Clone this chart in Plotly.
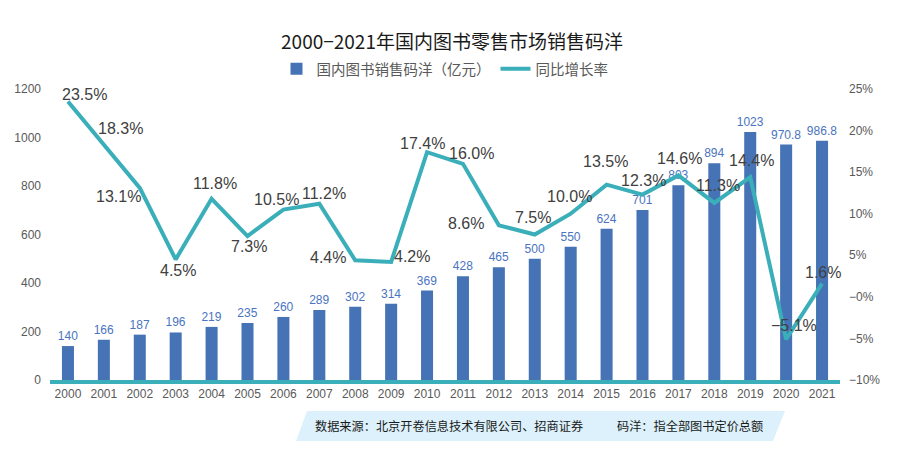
import plotly.graph_objects as go

years = [str(y) for y in range(2000, 2022)]
sales = [140, 166, 187, 196, 219, 235, 260, 289, 302, 314, 369, 428, 465, 500, 550, 624, 701, 803, 894, 1023, 970.8, 986.8]
sales_text = ["140", "166", "187", "196", "219", "235", "260", "289", "302", "314", "369", "428", "465", "500", "550", "624", "701", "803", "894", "1023", "970.8", "986.8"]
growth = [23.5, 18.3, 13.1, 4.5, 11.8, 7.3, 10.5, 11.2, 4.4, 4.2, 17.4, 16.0, 8.6, 7.5, 10.0, 13.5, 12.3, 14.6, 11.3, 14.4, -5.1, 1.6]
left_ticks = [0, 200, 400, 600, 800, 1000, 1200]
right_ticks = [-10, -5, 0, 5, 10, 15, 20, 25]
right_ticktext = ["\u221210%", "\u22125%", "\u22120%", "5%", "10%", "15%", "20%", "25%"]

# label offsets (pixels) of each growth label relative to its point: (dx, dy up)
label_dx = [17, 17, -21, 2, 3, 1, -7, 5, -27, 21, -5, 9, -33, -2, -1, -1, 1, 1, 4, 1, 8, 1]
label_dy = [7, 16, -9, -11, 15, -10, 10, 10, 3, 5, 9, 10, 2, 17, 17, 23, 14, 17, 17, 17, 14, 11]

BASE = "Arial, 'Liberation Sans', 'Noto Sans CJK SC', sans-serif"
CJK = "'Noto Sans CJK SC', Arial, sans-serif"
BAR = "#4673b5"
TEAL = "#3aafb9"

fig = go.Figure()
fig.add_trace(go.Bar(
    x=years, y=sales, name="国内图书销售码洋（亿元）",
    marker=dict(color=BAR, line=dict(width=0)),
    text=sales_text, textposition="outside", cliponaxis=False, constraintext="none",
    textfont=dict(color="#4a74c0", size=12, family=BASE),
))
fig.add_trace(go.Scatter(
    x=years, y=growth, name="同比增长率", yaxis="y2", mode="lines",
    line=dict(color=TEAL, width=4), cliponaxis=False,
))

# category axis: annotate by category index
for i, (v, dx, dy) in enumerate(zip(growth, label_dx, label_dy)):
    fig.add_annotation(x=i, y=v, xref="x", yref="y2", xshift=dx, yshift=dy,
                       text=f"{v:.1f}%".replace("-", "\u2212"), showarrow=False,
                       xanchor="center", yanchor="middle",
                       font=dict(color="#404040", size=16, family=BASE))

fig.update_layout(
    width=904, height=466,
    margin=dict(l=50, r=64, t=89, b=86),
    paper_bgcolor="white", plot_bgcolor="white",
    bargap=0.665,
    showlegend=True,
    title=dict(text="2000\u22122021年国内图书零售市场销售码洋", x=0.5, xanchor="center",
               y=1 - 42 / 466, yanchor="middle",
               font=dict(size=19, color="#1a1a1a", family=CJK)),
    legend=dict(orientation="h", x=0.5, xanchor="center", y=1.069, yanchor="middle",
                font=dict(size=14.5, color="#595959", family=CJK), itemwidth=30,
                bgcolor="rgba(0,0,0,0)"),
    xaxis=dict(type="category", showgrid=False, showline=True, linecolor=TEAL, linewidth=4,
               ticks="", tickfont=dict(size=12, color="#595959", family=BASE),
               range=[-0.5, 21.5], zeroline=False),
    yaxis=dict(range=[0, 1200], tickvals=left_ticks, showgrid=False, zeroline=False,
               showline=False, ticks="", ticklabelstandoff=8,
               tickfont=dict(size=12, color="#595959", family=BASE)),
    yaxis2=dict(range=[-10, 25], overlaying="y", side="right", tickvals=right_ticks,
                ticktext=right_ticktext, showgrid=False, zeroline=False, showline=False,
                ticks="", ticklabelstandoff=8,
                tickfont=dict(size=12, color="#595959", family=BASE)),
)

# bottom note banner (parallelogram)
fig.add_shape(type="path", xref="paper", yref="paper",
              path="M 0.3114 -0.2096 L 0.3253 -0.1065 L 0.9304 -0.1065 L 0.9152 -0.2096 Z",
              fillcolor="#dcf1fb", line=dict(width=0), layer="below")
fig.add_annotation(text="数据来源：北京开卷信息技术有限公司、招商证券", xref="paper", yref="paper",
                   x=(313 - 50) / 790, y=(380 - 426) / 291, xanchor="left", yanchor="middle",
                   showarrow=False, font=dict(size=12.2, color="#1a1a1a", family=CJK))
fig.add_annotation(text="码洋：指全部图书定价总额", xref="paper", yref="paper",
                   x=(615 - 50) / 790, y=(380 - 426) / 291, xanchor="left", yanchor="middle",
                   showarrow=False, font=dict(size=12.2, color="#1a1a1a", family=CJK))

fig.write_html("out.html")
